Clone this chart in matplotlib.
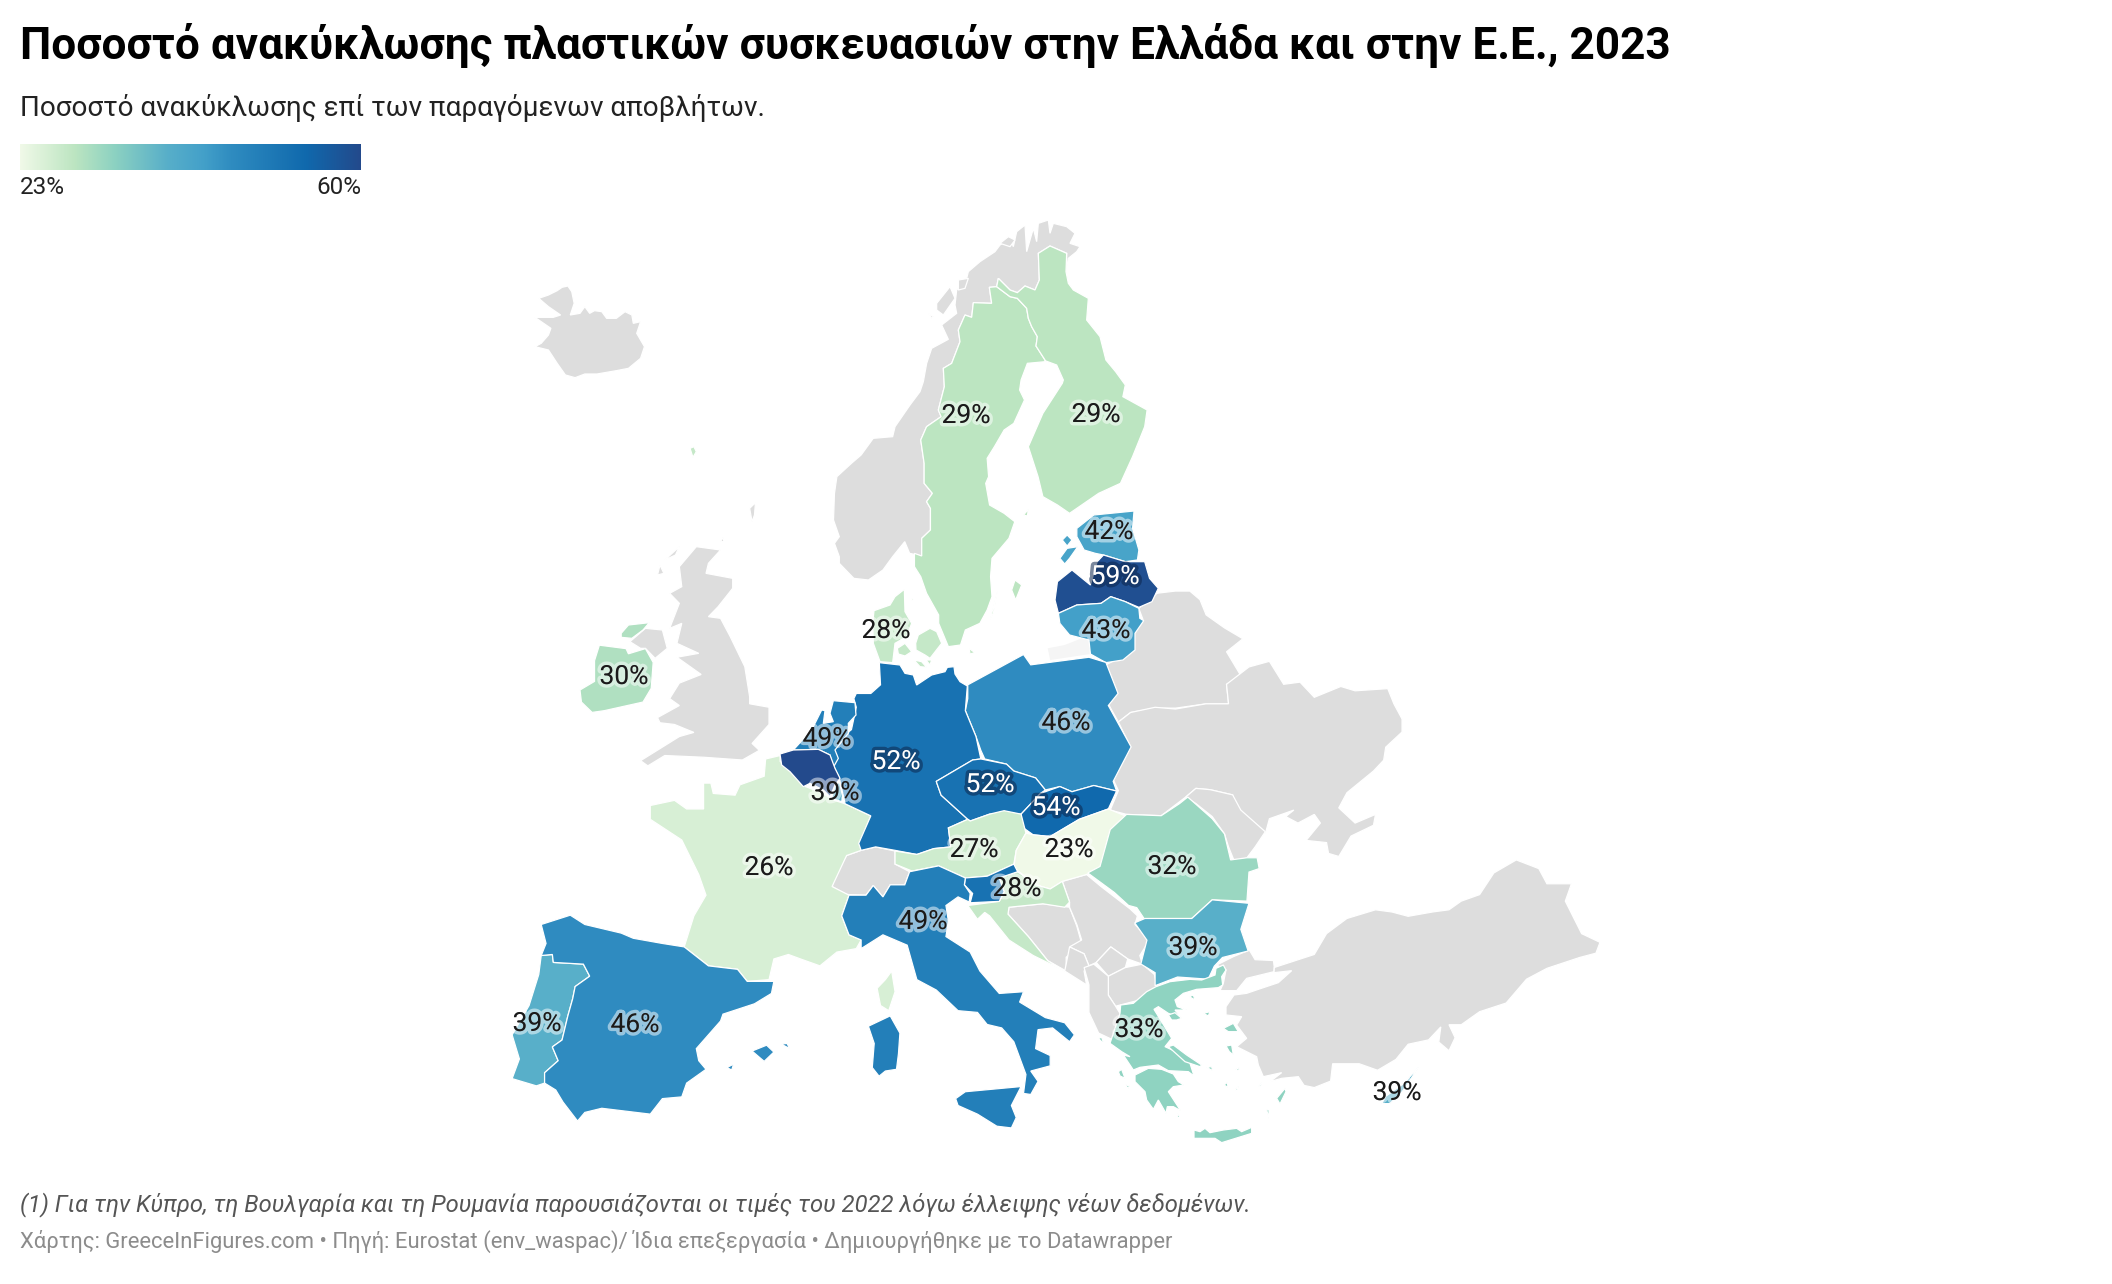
import numpy as np
from matplotlib import pyplot as plt
from matplotlib import patheffects as pe
from matplotlib.colors import LinearSegmentedColormap, Normalize

plt.rcParams['font.family'] = ['Roboto', 'DejaVu Sans']

title = "Ποσοστό ανακύκλωσης πλαστικών συσκευασιών στην Ελλάδα και στην Ε.Ε., 2023"
subtitle = "Ποσοστό ανακύκλωσης επί των παραγόμενων αποβλήτων."
note = "(1) Για την Κύπρο, τη Βουλγαρία και τη Ρουμανία παρουσιάζονται οι τιμές του 2022 λόγω έλλειψης νέων δεδομένων."
source = "Χάρτης: GreeceInFigures.com • Πηγή: Eurostat (env_waspac)/ Ίδια επεξεργασία • Δημιουργήθηκε με το Datawrapper"

countries = ["Sweden", "Finland", "Estonia", "Latvia", "Lithuania", "Denmark", "Ireland", "Poland", "France",
             "Germany", "Netherlands", "Belgium", "Czechia", "Slovakia", "Luxembourg", "Austria", "Hungary",
             "Romania", "Croatia", "Slovenia", "Italy", "Bulgaria", "Portugal", "Spain", "Greece", "Cyprus"]
values = [29, 29, 42, 59, 43, 28, 30, 46, 26, 52, 49, 60, 52, 54, 39, 27, 23, 32, 28, 52, 49, 39, 39, 46, 33, 39]
labelled = ["Sweden", "Finland", "Estonia", "Latvia", "Lithuania", "Denmark", "Ireland", "Poland",
            "Netherlands", "Germany", "Czechia", "Slovakia", "Luxembourg", "Austria", "Hungary",
            "France", "Romania", "Croatia", "Italy", "Bulgaria", "Portugal", "Spain", "Greece", "Cyprus"]
label_x = [966, 1096, 1109, 1115, 1106, 886, 624, 1066, 827, 896, 990, 1056, 835, 974, 1069, 769, 1172, 1017, 923, 1193, 537, 635, 1139, 1397]
label_y = [416, 415, 532, 577, 631, 631, 677, 723, 739, 762, 785, 808, 793, 850, 850, 868, 867, 889, 922, 948, 1024, 1025, 1030, 1093]


def north(pts):
    return [(500 + x / 2.063, 200 + y / 3.0) for x, y in pts]


def mid(pts):
    return [(500 + x / 2.063, 640 + y / 2.9) for x, y in pts]


def east(pts):
    return [(1000 + x / 2.45, 500 + y / 2.306) for x, y in pts]


def aegean(pts):
    return [(1090 + x / 3, 950 + y / 3) for x, y in pts]


def lapland(pts):
    return [(900 + x / 3, 210 + y / 3) for x, y in pts]


def baltic(pts):
    return [(850 + x / 3, 580 + y / 3) for x, y in pts]


def benelux(pts):
    return [(780 + x / 3, 690 + y / 3) for x, y in pts]


sweden_norway_south = north([(870, 1068), (870, 1015), (888, 990), (888, 925), (880, 905), (892, 880), (875, 850), (875, 790), (868, 720), (880, 680), (910, 650)])
sweden_norway_north = lapland([(115, 600), (133, 530), (130, 475), (155, 460), (180, 395), (175, 360), (195, 315), (215, 322), (220, 278), (275, 280), (268, 232)])
finland_border = lapland([(290, 230), (330, 260), (352, 265), (380, 295), (385, 325), (395, 350), (412, 380), (408, 408), (435, 450)])
finland_top = lapland([(295, 205), (330, 240), (352, 248), (375, 228), (405, 240), (418, 210), (415, 130), (450, 108), (500, 130), (498, 185)])

shapes = {
    "Sweden": [north([(855, 1060)]) + sweden_norway_south + sweden_norway_north + finland_border + north([(1125, 485), (1088, 490), (1075, 540), (1072, 570), (1082, 600), (1060, 670), (1040, 690), (1020, 740), (1005, 775), (1008, 830), (1002, 850), (1010, 915), (1040, 940), (1062, 965), (1050, 1015), (1015, 1075), (1012, 1130), (1015, 1190), (1005, 1230), (990, 1270), (960, 1290), (950, 1335), (925, 1340), (905, 1270), (905, 1245), (880, 1180), (868, 1130), (855, 1100)]),
               baltic([(485, 30), (495, 0), (515, 15), (497, 60)]),
               baltic([(420, 120), (442, 35), (430, 100)])],
    "Finland": [finland_top + lapland([(505, 220), (520, 240), (565, 265), (560, 330), (600, 380)]) + north([(1250, 480), (1270, 515), (1290, 555), (1285, 590), (1335, 630), (1330, 680), (1305, 770), (1280, 850), (1235, 880), (1175, 940), (1150, 915), (1120, 890), (1110, 830), (1090, 740), (1105, 690), (1120, 640), (1160, 550)]) + lapland([(490, 510), (470, 465), (435, 452)]) + finland_border[::-1],
                north([(1080, 945), (1090, 928), (1088, 948)])],
    "Estonia": [north([(1190, 985), (1225, 945), (1308, 933), (1305, 985), (1318, 1050), (1315, 1080), (1290, 1085), (1245, 1065), (1228, 1060), (1205, 1050), (1190, 1010)]),
                north([(1160, 1020), (1170, 1005), (1180, 1020), (1170, 1038)]),
                north([(1155, 1075), (1170, 1045), (1192, 1040), (1175, 1075), (1165, 1092)])],
    "Latvia": [north([(1150, 1145), (1180, 1110), (1218, 1155), (1232, 1085), (1245, 1065), (1290, 1085), (1330, 1085), (1340, 1135), (1358, 1165), (1345, 1205), (1318, 1222), (1290, 1205), (1260, 1190), (1240, 1210), (1190, 1215), (1152, 1240), (1145, 1200)])],
    "Lithuania": [north([(1152, 1240), (1190, 1215), (1240, 1210), (1260, 1190), (1290, 1205), (1318, 1225), (1320, 1255), (1328, 1262), (1310, 1300), (1310, 1350), (1285, 1380), (1250, 1388), (1218, 1362), (1215, 1320), (1175, 1305), (1155, 1270)])],
    "Denmark": [baltic([(72, 92), (120, 75), (135, 50), (163, 28), (165, 95), (185, 130), (170, 170), (135, 190), (128, 248), (90, 245), (70, 190), (68, 130)]),
                baltic([(142, 205), (165, 190), (185, 215), (165, 228), (145, 222)]),
                baltic([(197, 190), (205, 165), (240, 145), (260, 155), (275, 190), (240, 235), (225, 225), (198, 210)]),
                baltic([(192, 240), (215, 245), (230, 262), (210, 260)]),
                baltic([(228, 240), (245, 240), (240, 255)]),
                baltic([(357, 205), (375, 218), (360, 222)]),
                baltic([(183, 58), (192, 55), (190, 63)]),
                north([(392, 745), (400, 740), (405, 755), (398, 772)])],
    "Ireland": [mid([(205, 15), (260, 25), (265, 40), (300, 25), (316, 65), (312, 140), (295, 180), (215, 205), (190, 210), (168, 180), (165, 145), (195, 120), (195, 60)]),
                north([(250, 1300), (265, 1275), (308, 1268), (295, 1290), (272, 1315), (250, 1312)])],
    "Poland": [mid([(965, 130), (1080, 42), (1095, 72), (1215, 50), (1250, 65), (1275, 155), (1255, 190), (1302, 310), (1265, 410), (1272, 438), (1225, 422), (1180, 440), (1155, 425), (1125, 435), (1105, 400), (1060, 380), (1045, 360), (1000, 345), (992, 320), (982, 280), (960, 205), (965, 170)])],
    "Netherlands": [benelux([(125, 60), (135, 62), (130, 100), (160, 95), (150, 70), (160, 32), (225, 38), (228, 75), (205, 100), (205, 130), (165, 180), (175, 205), (160, 232), (150, 195), (115, 178), (40, 180), (60, 158), (100, 110)])],
    "Germany": [baltic([(88, 248), (150, 255), (165, 280), (190, 285), (200, 315), (245, 285), (285, 275), (292, 262), (312, 260), (315, 282), (330, 305), (352, 318)]) + mid([(960, 205), (982, 280), (992, 345), (975, 348), (900, 410), (910, 450), (965, 520), (925, 545), (930, 600), (895, 605), (860, 622), (815, 610), (775, 600), (745, 610), (740, 590), (765, 510), (712, 475), (700, 400), (690, 370), (680, 330), (690, 320), (695, 290), (725, 260), (735, 195), (730, 170), (735, 155), (765, 155), (785, 130)])],
    "Belgium": [benelux([(0, 192), (40, 180), (115, 178), (150, 195), (165, 235), (180, 265), (165, 285), (150, 320), (130, 300), (90, 280), (70, 290), (30, 245), (5, 225)])],
    "Czechia": [mid([(900, 410), (975, 348), (992, 345), (1045, 360), (1060, 380), (1105, 400), (1125, 435), (1115, 445), (1075, 505), (1010, 505), (970, 525), (965, 520), (910, 450)])],
    "Slovakia": [mid([(1075, 505), (1115, 445), (1155, 425), (1180, 440), (1225, 422), (1272, 438), (1255, 490), (1195, 520), (1135, 570), (1100, 565), (1075, 540)])],
    "Luxembourg": [benelux([(165, 290), (178, 275), (188, 320), (185, 335), (155, 325)])],
    "Austria": [mid([(815, 612), (860, 622), (895, 605), (930, 600), (925, 545), (965, 520), (970, 525), (1010, 505), (1040, 495), (1075, 505), (1085, 560), (1065, 610), (1060, 650), (1005, 685), (960, 690), (905, 655), (850, 670), (815, 650)])],
    "Hungary": [mid([(1085, 560), (1100, 565), (1135, 570), (1195, 520), (1255, 490), (1290, 510), (1255, 570), (1240, 660), (1210, 680), (1160, 700), (1135, 722), (1105, 710), (1060, 660), (1065, 610)])],
    "France": [mid([(548, 345), (578, 335), (578, 352), (595, 370), (625, 395), (630, 425), (660, 440), (690, 465), (712, 475), (765, 510), (742, 590), (745, 610), (715, 625), (685, 715), (720, 740), (705, 800), (720, 855), (745, 870), (735, 895), (695, 905), (660, 945), (620, 925), (595, 912), (565, 925), (555, 985), (510, 990), (490, 955), (430, 945), (380, 890), (400, 800), (425, 740), (410, 680), (375, 580), (310, 520), (310, 480), (360, 465), (385, 490), (420, 490), (420, 415), (435, 415), (440, 445), (485, 450), (495, 420), (545, 395)]),
               mid([(778, 1010), (795, 985), (808, 960), (815, 1020), (802, 1075), (785, 1060)])],
    "Romania": [east([(310, 725), (395, 728), (440, 700), (460, 685), (520, 735), (550, 770), (565, 830), (605, 825), (630, 825), (635, 850), (610, 858), (605, 925), (520, 922), (470, 965), (360, 975), (335, 940), (315, 935), (280, 905), (215, 860), (245, 845), (270, 760)])],
    "Croatia": [mid([(1068, 672), (1105, 710), (1135, 722), (1160, 700), (1175, 760), (1165, 775), (1120, 765), (1050, 775), (1048, 795), (1090, 860), (1130, 930), (1165, 960), (1100, 915), (1050, 870), (1010, 800), (1000, 790), (985, 810), (965, 770), (1030, 758), (1040, 730), (1030, 690)])],
    "Slovenia": [mid([(960, 690), (1005, 685), (1060, 650), (1068, 672), (1030, 690), (1040, 730), (1030, 758), (970, 762), (975, 735), (958, 710)])],
    "Italy": [mid([(845, 672), (905, 655), (960, 690), (958, 710), (970, 735), (968, 760), (945, 745), (920, 770), (925, 815), (920, 860), (970, 905), (990, 960), (1030, 1025), (1080, 1020), (1072, 1050), (1125, 1095), (1165, 1110), (1185, 1145), (1175, 1165), (1140, 1125), (1110, 1130), (1105, 1185), (1135, 1205), (1135, 1235), (1095, 1250), (1110, 1280), (1095, 1318), (1080, 1315), (1085, 1260), (1060, 1165), (1035, 1125), (1005, 1115), (985, 1080), (945, 1075), (900, 1015), (860, 985), (840, 885), (790, 855), (745, 895), (745, 870), (720, 855), (705, 800), (720, 740), (755, 740), (770, 712), (790, 745), (805, 710), (835, 710)]),
              mid([(940, 1330), (960, 1310), (1075, 1295), (1055, 1350), (1065, 1385), (1055, 1415), (1025, 1410), (985, 1375), (945, 1350)]),
              mid([(760, 1120), (805, 1090), (825, 1140), (822, 1200), (818, 1245), (795, 1250), (782, 1265), (768, 1240), (772, 1170)])],
    "Bulgaria": [east([(330, 975), (355, 965), (470, 965), (520, 922), (610, 930), (590, 990), (608, 1040), (545, 1055), (525, 1075), (510, 1105), (435, 1100), (380, 1120), (380, 1090), (345, 1070), (360, 1015)])],
    "Portugal": [mid([(85, 915), (108, 912), (110, 935), (172, 940), (185, 975), (155, 1005), (150, 1040), (140, 1090), (128, 1160), (108, 1180), (120, 1220), (92, 1255), (92, 1285), (75, 1293), (25, 1272), (40, 1215), (25, 1145), (60, 1060), (80, 970)])],
    "Spain": [mid([(85, 825), (145, 798), (175, 825), (250, 850), (275, 865), (335, 880), (380, 890), (430, 945), (490, 955), (510, 990), (565, 990), (560, 1025), (525, 1055), (460, 1085), (455, 1105), (405, 1185), (410, 1220), (425, 1245), (385, 1285), (375, 1325), (335, 1330), (310, 1375), (210, 1358), (175, 1370), (160, 1395), (130, 1340), (115, 1305), (92, 1285), (92, 1255), (120, 1220), (108, 1180), (128, 1160), (140, 1090), (150, 1040), (155, 1005), (185, 975), (172, 940), (110, 935), (108, 912), (85, 915), (95, 880)]),
              mid([(520, 1192), (550, 1175), (565, 1195), (545, 1222)]),
              mid([(580, 1172), (592, 1170), (598, 1185)]),
              mid([(468, 1240), (482, 1230), (478, 1247)])],
    "Greece": [aegean([(198, 110), (240, 95), (300, 88), (335, 90), (375, 75), (378, 55), (400, 45), (408, 60), (395, 80), (398, 105), (385, 113), (320, 118), (280, 130), (255, 150), (262, 170), (290, 180), (255, 180), (275, 205), (235, 190), (205, 170), (192, 178), (215, 215), (245, 265), (225, 290), (280, 315), (300, 340), (312, 378), (295, 365), (235, 362), (205, 345), (150, 352), (130, 360), (100, 315), (120, 320), (95, 305), (60, 280), (70, 250), (90, 190), (92, 165), (130, 160), (170, 125)]),
               aegean([(135, 375), (175, 355), (215, 358), (250, 372), (265, 395), (282, 405), (250, 410), (235, 425), (272, 482), (250, 470), (232, 470), (228, 490), (205, 450), (190, 478), (170, 450), (165, 425), (135, 395)]),
               aegean([(312, 540), (330, 545), (345, 535), (360, 548), (400, 540), (440, 535), (455, 545), (485, 532), (485, 550), (395, 578), (375, 565), (312, 565)]),
               aegean([(235, 290), (250, 285), (290, 315), (335, 345), (330, 350), (285, 335)]),
               aegean([(400, 235), (430, 220), (445, 245), (415, 245)]),
               aegean([(560, 445), (585, 415), (588, 425), (570, 462)]),
               aegean([(85, 365), (95, 358), (105, 385), (90, 378)]),
               aegean([(102, 402), (118, 408), (115, 415)]),
               aegean([(25, 265), (35, 262), (42, 282)]),
               aegean([(408, 288), (425, 285), (430, 315), (418, 305)]),
               aegean([(298, 140), (310, 135), (315, 150)]),
               aegean([(340, 190), (360, 185), (355, 198)]),
               aegean([(350, 352), (365, 350), (368, 362)]),
               aegean([(402, 405), (412, 397), (414, 412)]),
               aegean([(530, 480), (537, 478), (537, 505)]),
               aegean([(437, 358), (450, 352), (445, 362)]),
               aegean([(505, 410), (515, 398), (512, 410)]),
               aegean([(435, 418), (445, 410), (440, 422)]),
               aegean([(262, 490), (270, 502), (262, 503)]),
               aegean([(235, 195), (255, 188), (275, 205), (260, 210), (245, 210)])],
    "Cyprus": [east([(935, 1392), (945, 1375), (990, 1345), (1025, 1308), (1000, 1345), (985, 1365), (955, 1392)])],
}

# countries without data
grey_shapes = {
    "Iceland": [north([(80, 295), (100, 285), (118, 272), (128, 262), (140, 258), (148, 275), (153, 310), (145, 345), (165, 340), (175, 320), (185, 340), (195, 332), (210, 335), (220, 355), (240, 355), (258, 335), (272, 345), (275, 370), (290, 365), (282, 400), (298, 440), (290, 475), (265, 505), (240, 512), (200, 522), (175, 522), (155, 533), (135, 525), (118, 490), (100, 450), (72, 440), (85, 430), (100, 405), (105, 385), (72, 352), (110, 352), (125, 345), (100, 320)])],
    "Norway": [north([(700, 1090), (730, 1135), (760, 1140), (790, 1110), (810, 1070), (835, 1025), (845, 1060)]) + sweden_norway_south + sweden_norway_north + lapland([(290, 230)]) + finland_top + lapland([(505, 145), (530, 125), (540, 110), (510, 100), (525, 70), (500, 50), (460, 40), (450, 70), (445, 30), (415, 40), (410, 95), (400, 55), (380, 125), (375, 45), (350, 65), (340, 110), (330, 85), (300, 105), (285, 125), (240, 155), (205, 185), (200, 205), (170, 240), (165, 285), (170, 310), (125, 345), (145, 388), (95, 415), (80, 460), (70, 515), (60, 545), (30, 585)]) + north([(815, 680), (810, 710), (770, 715), (745, 765), (725, 790), (695, 830), (690, 880), (688, 960), (700, 1010), (690, 1030), (700, 1070)]),
               lapland([(175, 210), (205, 205), (195, 235), (175, 240)]),
               lapland([(110, 280), (150, 230), (165, 265), (130, 315), (110, 300)]),
               lapland([(85, 310), (100, 320), (95, 325)]),
               lapland([(300, 100), (325, 80), (345, 90), (330, 110)])],
    "Britain": [north([(405, 1040), (455, 1050), (430, 1090), (425, 1120), (480, 1135), (480, 1165), (450, 1220), (430, 1250), (455, 1255), (475, 1310), (505, 1400), (515, 1490)]) + mid([(515, 185), (555, 195), (555, 245), (520, 300), (535, 320), (500, 348), (420, 340), (340, 335), (305, 365), (290, 350), (370, 280), (400, 268), (360, 245), (330, 240), (325, 225), (370, 190), (350, 170), (370, 125), (415, 100), (365, 50)]) + north([(410, 1360), (365, 1330), (375, 1270), (350, 1285), (370, 1210), (350, 1180), (375, 1160), (370, 1100)])],
    "Northern Ireland": [north([(268, 1325), (300, 1285), (335, 1290), (345, 1345), (320, 1375), (300, 1345), (290, 1345)])],
    "Hebrides": [north([(340, 1080), (370, 1040), (362, 1065)]), north([(325, 1125), (330, 1095), (338, 1120)]),
                 north([(515, 925), (527, 908), (525, 945), (520, 965)]), north([(455, 1025), (460, 1012), (462, 1025)])],
    "Switzerland": [mid([(715, 625), (745, 610), (775, 600), (815, 612), (815, 650), (845, 672), (835, 710), (805, 710), (790, 745), (770, 712), (755, 740), (715, 738), (685, 715), (695, 670)])],
    "Bosnia": [mid([(1050, 775), (1120, 765), (1175, 775), (1190, 830), (1200, 880), (1168, 920), (1168, 960), (1130, 930), (1090, 860), (1048, 795)])],
    "Serbia": [mid([(1160, 700), (1210, 680), (1240, 715), (1300, 780), (1315, 800), (1310, 825), (1340, 870), (1320, 915), (1325, 940), (1295, 925), (1260, 890), (1230, 935), (1215, 945), (1205, 910), (1175, 890), (1200, 870), (1190, 825), (1175, 775), (1175, 760)])],
    "Montenegro": [mid([(1168, 940), (1175, 890), (1205, 910), (1215, 945), (1205, 960), (1210, 1000), (1165, 960)])],
    "Kosovo": [mid([(1230, 935), (1260, 890), (1295, 925), (1290, 950), (1255, 975)])],
    "Macedonia": [mid([(1255, 975), (1290, 950), (1325, 940), (1350, 970), (1355, 1005), (1330, 1040), (1270, 1062), (1255, 1030)])],
    "Albania": [mid([(1205, 950), (1225, 940), (1255, 975), (1255, 1030), (1270, 1062), (1280, 1085), (1265, 1160), (1235, 1140), (1215, 1080), (1215, 1000)])],
    "Belarus": [east([(340, 250), (385, 215), (430, 210), (465, 210), (490, 230), (505, 265), (550, 295), (595, 320), (555, 350), (590, 405), (555, 425), (560, 470), (505, 470), (430, 480), (380, 480), (320, 490), (290, 512), (265, 470), (285, 440), (260, 380), (330, 345), (315, 300), (350, 275)])],
    "Ukraine": [east([(290, 512), (320, 490), (380, 478), (430, 482), (505, 470), (560, 470), (555, 425), (610, 385), (660, 372), (695, 425), (735, 420), (770, 455), (835, 430), (870, 440), (950, 435), (965, 470), (985, 505), (985, 535), (945, 570), (940, 600), (915, 625), (850, 675), (830, 710), (870, 745), (920, 725), (915, 750), (860, 775), (830, 822), (805, 815), (800, 790), (750, 785), (785, 745), (770, 725), (730, 745), (700, 730), (720, 715), (660, 735), (650, 770), (625, 750), (585, 770), (570, 680), (515, 668), (480, 665), (455, 685), (395, 728), (310, 725), (270, 715), (290, 670), (275, 640), (320, 570)])],
    "Moldova": [east([(455, 685), (480, 665), (515, 668), (570, 680), (590, 715), (650, 765), (625, 800), (605, 825), (575, 835), (560, 800), (550, 770), (520, 730), (480, 700)])],
    "Turkey": [aegean([(390, 122), (400, 100), (408, 60), (380, 45), (430, 20), (478, 0)]) + east([(625, 1060), (670, 1062), (672, 1078)]) + aegean([(552, 65), (470, 85), (440, 122)]),
               east([(672, 1078), (770, 1048), (800, 1000), (850, 965), (920, 945), (960, 950), (1000, 960), (1060, 950), (1100, 945), (1130, 925), (1175, 910), (1210, 860), (1265, 830), (1320, 850), (1340, 885), (1400, 885), (1385, 925), (1425, 1000), (1470, 1020), (1460, 1045), (1420, 1055), (1340, 1080), (1290, 1105), (1240, 1160), (1175, 1180), (1130, 1210), (1100, 1210), (1115, 1240), (1100, 1270), (1075, 1250), (1080, 1215), (1050, 1245), (1000, 1255), (970, 1290), (925, 1315), (880, 1300), (815, 1300), (810, 1340), (770, 1355), (745, 1350)]) + aegean([(625, 380), (575, 385), (540, 395), (575, 368), (520, 380), (505, 345), (500, 320), (440, 290), (470, 265), (440, 225), (455, 200), (408, 195), (408, 170), (432, 135), (470, 130), (505, 118), (565, 98), (605, 62), (552, 68)])],
}
kaliningrad = north([(1130, 1345), (1165, 1335), (1200, 1315), (1215, 1320), (1218, 1362), (1135, 1380)])

cmap = LinearSegmentedColormap.from_list("recycling", [
    (0.0, "#f0f9e8"), (0.16, "#bce5c1"), (0.27, "#8fd3c1"), (0.43, "#58afc9"), (0.54, "#43a0c9"),
    (0.62, "#2f8cc0"), (0.84, "#1069ad"), (1.0, "#234a8c")])
norm = Normalize(23, 60)

fig = plt.figure(figsize=(21.12, 12.84), dpi=100)
ax = fig.add_axes([0, 0, 1, 1])

for name, parts in grey_shapes.items():
    for part in parts:
        ax.fill(*zip(*part), facecolor="#dddddd", edgecolor="white", linewidth=0.9)
ax.fill(*zip(*kaliningrad), facecolor="#f5f5f5", edgecolor="none")

for name, value in zip(countries, values):
    for part in shapes[name]:
        ax.fill(*zip(*part), facecolor=cmap(norm(value)), edgecolor="white", linewidth=0.9)

for name, x, y in zip(labelled, label_x, label_y):
    value = values[countries.index(name)]
    if value >= 50:
        color, halo = "white", (0.05, 0.15, 0.3, 0.55)
    else:
        color, halo = "#1a1a1a", (1, 1, 1, 0.5)
    ax.text(x, y, f"{value}%", fontsize=19, color=color, ha="center", va="center",
            path_effects=[pe.withStroke(linewidth=5, foreground=halo)])

# legend
ax.imshow(np.linspace(0, 1, 256)[None, :], cmap=cmap, extent=(20, 361, 170, 144), aspect="auto")
ax.text(20, 187, "23%", fontsize=17.5, color="#222222", ha="left", va="center")
ax.text(361, 187, "60%", fontsize=17.5, color="#222222", ha="right", va="center")

ax.text(20, 46, title, fontsize=31.8, fontweight="bold", color="#000000", ha="left", va="center")
ax.text(20, 108, subtitle, fontsize=20.1, color="#222222", ha="left", va="center")
ax.text(20, 1205, note, fontsize=17.15, style="italic", color="#555555", ha="left", va="center")
ax.text(20, 1241, source, fontsize=15.85, color="#8c8c8c", ha="left", va="center")

ax.set_xlim(0, 2112)
ax.set_ylim(1284, 0)
ax.axis("off")
fig.savefig("out.png", dpi=100, facecolor="white")
